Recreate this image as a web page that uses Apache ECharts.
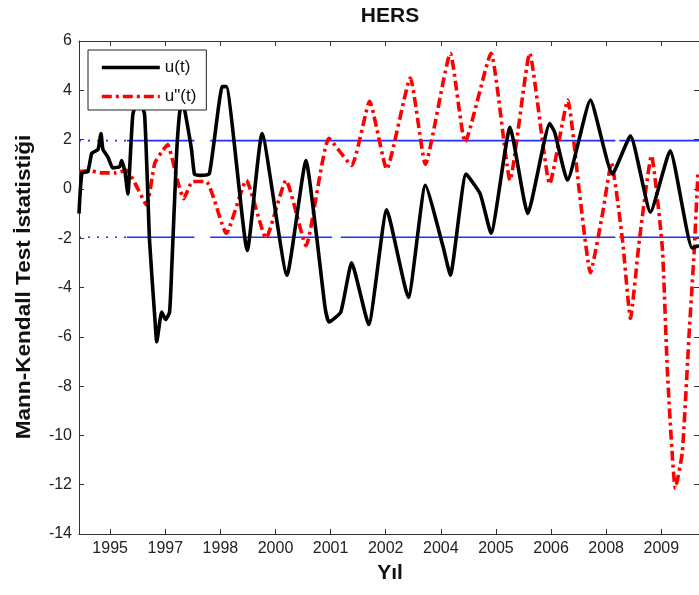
<!DOCTYPE html>
<html>
<head>
<meta charset="utf-8">
<script src="https://cdn.jsdelivr.net/npm/echarts@6/dist/echarts.min.js"></script>
<style>
  html, body { margin: 0; padding: 0; background: #fff; }
  #chart { width: 699px; height: 595px; }
</style>
</head>
<body>
<div id="chart"></div>
<script>
// Mann-Kendall sequential test for the HERS station, monthly index on x.

// x tick positions (month index) and their year labels
const tickMonths = [9.5, 26.3, 43.1, 59.9, 76.7, 93.5, 110.3, 127.1, 143.9, 160.7, 177.5];
const tickLabels = ['1995', '1997', '1998', '2000', '2001', '2002', '2004', '2005', '2006', '2008', '2009'];

// forward statistic u(t): [month, value]
const uForward = [
  [0, -1.0], [0.9, 0.65], [2.7, 0.7], [3.9, 1.45], [5.8, 1.6], [6.7, 2.25], [7.3, 1.6],
  [8.8, 1.3], [10.3, 0.85], [12.4, 0.9], [13.0, 1.15], [14.0, 0.7], [14.9, -0.2],
  [16.4, 3.0], [18.2, 3.75], [20.0, 3.0], [21.5, -2.1], [23.1, -5.2], [23.7, -6.2],
  [25.2, -5.0], [26.4, -5.3], [27.6, -5.0], [28.2, -3.45], [29.7, 1.3], [30.6, 3.0],
  [31.5, 3.65], [32.5, 3.0], [34.3, 1.6], [35.2, 0.6], [36.7, 0.55], [39.7, 0.6],
  [43.7, 4.15], [44.9, 4.15], [51.3, -2.5], [55.8, 2.25], [63.4, -3.5], [69.2, 1.15],
  [72.5, -2.0], [75.0, -4.8], [76.2, -5.4], [79.8, -5.0], [83.1, -3.0], [88.3, -5.5],
  [93.8, -0.85], [100.4, -4.4], [105.6, 0.15], [111.0, -2.35], [113.2, -3.5],
  [118.0, 0.6], [122.3, -0.2], [125.6, -1.8], [131.4, 2.5], [136.8, -1.0],
  [143.5, 2.65], [145.0, 2.3], [148.9, 0.35], [155.9, 3.6], [162.6, 0.6],
  [168.1, 2.15], [174.2, -0.95], [180.2, 1.55], [186.9, -2.4], [189.0, -2.3]
];

// backward statistic u"(t): [month, value]
const uBackward = [
  [0, 0.7], [3.3, 0.75], [6.4, 0.65], [10.9, 0.65], [14.6, 0.75], [17.0, 0.25],
  [20.6, -0.65], [23.1, 1.05], [25.2, 1.5], [27.0, 1.8], [30.0, 0.35], [31.9, -0.4],
  [34.6, 0.3], [38.8, 0.3], [44.9, -1.8], [51.0, 0.35], [57.0, -2.0], [63.1, 0.35],
  [69.2, -2.3], [76.2, 2.05], [83.1, 0.95], [88.6, 3.55], [93.8, 0.8], [101.0, 4.5],
  [105.6, 1.0], [113.2, 5.5], [117.7, 1.9], [125.6, 5.5], [131.4, 0.35], [137.4, 5.5],
  [143.5, 0.2], [149.0, 3.6], [152.6, -0.2], [155.9, -3.4], [159.6, -1.0],
  [162.3, 1.05], [165.7, -2.1], [168.1, -5.25], [170.8, -2.1], [174.5, 1.35],
  [177.8, -2.35], [179.4, -7.5], [181.8, -12.15], [183.9, -10.7], [186.0, -5.85],
  [187.5, -2.6], [188.7, 0.7]
];

// 95% confidence bounds and the month spans where they are drawn
const critLevel = 1.96;
const critDotted = [0, 14.6];
const upperSpans = [[14.6, 35.2], [40.0, 163.5], [164.7, 189]];
const lowerSpans = [[14.6, 35.2], [40.0, 77.1], [79.8, 163.5], [164.7, 189]];

const FONT = '"Liberation Sans", Arial, Helvetica, sans-serif';

function spansToData(spans, level) {
  const out = [];
  spans.forEach((s, i) => {
    if (i > 0) out.push([(spans[i - 1][1] + s[0]) / 2, '-']);
    out.push([s[0], level], [s[1], level]);
  });
  return out;
}

const chart = echarts.init(document.getElementById('chart'), null, { renderer: 'canvas' });

const axisLineStyle = { color: '#333', width: 1 };
const xBase = { type: 'value', min: 0, max: 189, gridIndex: 0, splitLine: { show: false } };
const yBase = { type: 'value', min: -14, max: 6, interval: 2, gridIndex: 0, splitLine: { show: false } };

const blueStyle = { color: '#1f2eff', width: 1.6 };

chart.setOption({
  animation: false,
  backgroundColor: '#fff',
  grid: { left: 79, top: 41, right: -3, bottom: 61, containLabel: false },
  xAxis: [
    Object.assign({}, xBase, {
      position: 'bottom',
      axisLine: { show: true, onZero: false, lineStyle: axisLineStyle },
      axisTick: { show: true, inside: true, length: 5, customValues: tickMonths, lineStyle: axisLineStyle },
      axisLabel: {
        customValues: tickMonths, margin: 7, fontSize: 16, fontFamily: FONT, color: '#222',
        formatter: v => {
          const i = tickMonths.findIndex(t => Math.abs(t - v) < 0.01);
          return i >= 0 ? tickLabels[i] : '';
        }
      }
    }),
    Object.assign({}, xBase, {
      position: 'top',
      axisLine: { show: true, onZero: false, lineStyle: axisLineStyle },
      axisTick: { show: true, inside: true, length: 5, customValues: tickMonths, lineStyle: axisLineStyle },
      axisLabel: { show: false }
    })
  ],
  yAxis: [
    Object.assign({}, yBase, {
      position: 'left',
      axisLine: { show: true, onZero: false, lineStyle: axisLineStyle },
      axisTick: { show: true, inside: true, length: 5, lineStyle: axisLineStyle },
      axisLabel: { margin: 7, fontSize: 16, fontFamily: FONT, color: '#222' }
    }),
    Object.assign({}, yBase, {
      position: 'right',
      axisLine: { show: true, onZero: false, lineStyle: axisLineStyle },
      axisTick: { show: true, inside: true, length: 5, lineStyle: axisLineStyle },
      axisLabel: { show: false }
    })
  ],
  legend: {
    orient: 'vertical',
    left: 88, top: 50, z: 20,
    padding: [9, 10, 5, 12],
    itemWidth: 58, itemHeight: 16, itemGap: 12,
    backgroundColor: '#fff',
    borderColor: '#222', borderWidth: 1,
    itemStyle: { opacity: 0 },
    lineStyle: { width: 3.6 },
    textStyle: { fontSize: 17, fontFamily: FONT, color: '#111' },
    data: ['u(t)', 'u"(t)']
  },
  graphic: [
    { type: 'text', x: 390, y: 16, z: 10,
      style: { text: 'HERS', font: 'bold 21px ' + FONT, fill: '#111',
               align: 'center', verticalAlign: 'middle', textAlign: 'center', textVerticalAlign: 'middle' } },
    { type: 'text', x: 390, y: 573, z: 10,
      style: { text: 'Yıl', font: 'bold 21px ' + FONT, fill: '#111',
               align: 'center', verticalAlign: 'middle', textAlign: 'center', textVerticalAlign: 'middle' } },
    { type: 'text', x: 24, y: 287, rotation: Math.PI / 2, scaleX: 1.13, z: 10,
      style: { text: 'Mann-Kendall Test İstatistiği', font: 'bold 20px ' + FONT, fill: '#111',
               align: 'center', verticalAlign: 'middle', textAlign: 'center', textVerticalAlign: 'middle' } }
  ],
  series: [
    { name: 'upper bound', type: 'line', symbol: 'none', silent: true, z: 1,
      data: spansToData(upperSpans, critLevel), lineStyle: blueStyle, connectNulls: false },
    { name: 'lower bound', type: 'line', symbol: 'none', silent: true, z: 1,
      data: spansToData(lowerSpans, -critLevel), lineStyle: blueStyle, connectNulls: false },
    { name: 'upper dotted', type: 'line', symbol: 'none', silent: true, z: 1,
      data: critDotted.map(x => [x, critLevel]),
      lineStyle: { color: '#1f2eff', width: 1.6, type: [2, 7] } },
    { name: 'lower dotted', type: 'line', symbol: 'none', silent: true, z: 1,
      data: critDotted.map(x => [x, -critLevel]),
      lineStyle: { color: '#1f2eff', width: 1.6, type: [2, 7] } },
    { name: 'u(t)', type: 'line', symbol: 'none', z: 3, smooth: 0.15,
      data: uForward, itemStyle: { color: '#000' },
      lineStyle: { color: '#000', width: 3.6, join: 'round' } },
    { name: 'u"(t)', type: 'line', symbol: 'none', z: 2, smooth: 0.15,
      data: uBackward, itemStyle: { color: '#ff0000' },
      lineStyle: { color: '#ff0000', width: 3.6, type: [10, 4, 3, 4] } }
  ]
});
</script>
</body>
</html>
